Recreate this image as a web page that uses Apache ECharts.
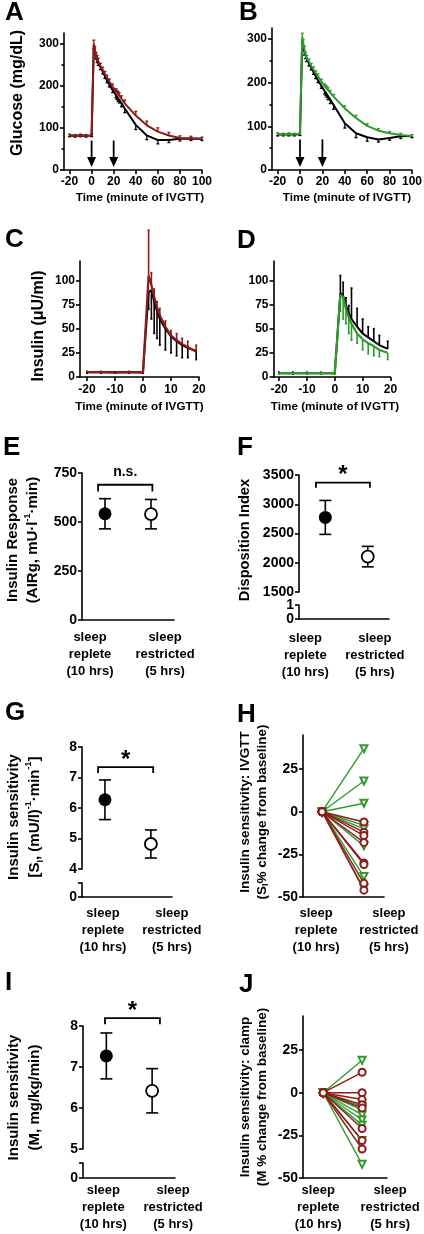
<!DOCTYPE html>
<html><head><meta charset="utf-8">
<script src="https://cdn.jsdelivr.net/npm/echarts@6.0.0/dist/echarts.min.js"></script>
<style>html,body{margin:0;padding:0;background:#fff;}#chart{width:424px;height:1234px;}</style>
</head><body><div id="chart"></div>
<script>
// ================= DATA =================
const glucoseTimes = [-20,-15,-10,-5,0,2,3,4,5,6,8,10,12,14,16,19,22,23,24,25,27,30,40,50,60,70,80,90,100];
const glucoseA_replete    = [82,81,82,81,82,296,282,270,262,255,244,234,223,213,203,190,178,174,170,167,159,146,107,82,71,71,74,75,74];
const glucoseA_repleteSem = [3,3,3,3,3,8,8,7,7,7,6,6,6,6,6,6,7,7,7,8,9,10,11,10,9,6,5,5,4];
const glucoseA_red        = [82,81,82,81,82,300,285,272,265,258,247,238,228,219,210,198,187,183,180,176,169,158,129,106,91,82,76,75,74];
const glucoseA_redSem     = [3,3,3,3,3,8,8,7,7,7,6,6,6,6,6,6,6,6,6,7,7,8,10,10,9,7,5,5,4];
const glucoseB_replete    = [81,81,81,81,82,298,282,270,262,255,244,235,225,215,206,193,181,177,173,169,161,149,107,84,75,70,73,77,78];
const glucoseB_repleteSem = [3,3,3,3,3,8,8,7,7,7,6,6,6,6,6,6,7,7,7,8,9,10,11,10,9,6,5,5,4];
const glucoseB_green      = [82,81,82,81,83,305,290,276,262,256,248,238,230,222,215,203,192,189,186,183,177,168,141,119,101,90,84,80,78];
const glucoseB_greenSem   = [3,3,3,3,3,8,8,7,7,6,6,6,6,5,5,5,5,5,5,5,5,5,6,6,5,5,4,4,3];
const glucoseArrowTimes   = [0, 20];
const glucoseTicks        = [-20,0,20,40,60,80,100];
const glucoseYTicks       = [0,100,200,300];
const glucoseYMinor       = [50,150,250];

const insulinTimes        = [-20,-15,-10,-5,0,2,3,4,5,6,8,10,12,14,16,19];
const insulinC_replete    = [5,5,5,5,5,88,90,78,68,60,50,42,37,33,30,27];
const insulinC_repleteSem = [1,1,1,1,1,18,30,33,28,27,22,17,15,13,10,9];
const insulinC_red        = [5,5,4.5,5,4.5,105,95,83,72,64,52,43,38,34,31,26];
const insulinC_redSem     = [1,1,1,1,1,47,13,8,6,7,6,5,7,6,6,7];
const insulinD_replete    = [4,4,4,4,4,87,84,74,66,60,52,45,41,37,33,29];
const insulinD_repleteSem = [1,1,1,1,1,18,14,8,8,32,19,15,11,13,10,8];
const insulinD_green      = [4,4,4,4,4,85,83,70,62,55,45,39,35,32,28,25];
const insulinD_greenSem   = [1,1,1,1,1,17,23,15,17,17,10,11,11,10,7,7];
const insulinTicks        = [-20,-10,0,10,20];
const insulinYTicks       = [0,25,50,75,100];

const conditionLines = [['sleep','replete','(10 hrs)'],['sleep','restricted','(5 hrs)']];
const airgMean = [542, 540],      airgSem = [77, 75];
const dispIdxMean = [2775, 2105], dispIdxSem = [290, 175];
const siMean = [6.27, 4.82],      siSem = [0.65, 0.46];
const clampMMean = [7.27, 6.42],  clampMSem = [0.56, 0.54];
const sigLabels = ['n.s.', '*', '*', '*'];   // E, F, G, I
const siChangeGreen = [37, 18, 5, -8, -10, -20, -38, -45];
const siChangeRed   = [-6, -12, -14, -18, -30, -31, -42, -46];
const mChangeGreen  = [19, -8, -10, -13, -16, -19, -28, -42];
const mChangeRed    = [12, 0, -4, -7, -9, -21, -28, -33];

// ================= STYLE =================
const REG = "'Liberation Sans',Arial,sans-serif";
const RED = '#8e1b1b', GREEN = '#2e9b2e';

const grids = [], xAxes = [], yAxes = [], series = [], titles = [];

function grid(l, t, w, h) { grids.push({left:l, top:t, width:w, height:h, containLabel:false, outerBoundsMode:'none'}); return grids.length - 1; }
function pushX(a) { xAxes.push(a); return xAxes.length - 1; }
function pushY(a) { yAxes.push(a); return yAxes.length - 1; }
function letter(t, l, top) { titles.push({text:t, left:l, top:top, padding:0, textStyle:{fontSize:26, fontWeight:'bold', fontFamily:REG, color:'#000'}}); }

function axis(o) {
  const a = {
    gridIndex:o.g, type:'value', min:o.min, max:o.max, show:o.show !== false,
    axisLine:{show:o.line !== false, onZero:false, lineStyle:{color:'#000', width:1.6}},
    axisTick:{show:!!o.ticks, inside:false, length:o.tickLen || 4, lineStyle:{color:'#000', width:1.6}},
    axisLabel:{show:!!o.labels, margin:o.margin == null ? 5 : o.margin, color:'#000', fontFamily:REG, fontWeight:'bold',
      fontSize:o.fontSize || 14, showMinLabel:true, showMaxLabel:true, hideOverlap:false,
      formatter:o.formatter || (v => String(v))},
    splitLine:{show:false}, minorTick:{show:false}, minorSplitLine:{show:false},
    nameMoveOverlap:false
  };
  if (o.ticks) a.axisTick.customValues = o.ticks;
  if (o.labels) a.axisLabel.customValues = o.labels;
  if (o.rich) a.axisLabel.rich = o.rich;
  if (o.position) { a.position = o.position; a.offset = 0; }
  if (o.name) {
    a.name = o.name; a.nameLocation = 'middle'; a.nameGap = o.nameGap;
    if (o.nameRotate != null) a.nameRotate = o.nameRotate;
    a.nameTextStyle = Object.assign({color:'#000', fontFamily:REG, fontWeight:'bold', fontSize:o.nameSize || 14, padding:o.namePad || 0}, o.nameStyle || {});
  }
  return a;
}

// condition labels: one x axis per label so they never compete for space
function catAxes(g, min, max, shift, margin) {
  const pad = d => d < 0 ? [0, -2 * d, 0, 0] : [0, 0, 0, 2 * d];
  const tok = {fontFamily:REG, fontWeight:'bold', fontSize:13, color:'#000', lineHeight:17};
  const mk = (i, withLine) => axis({g, min, max, labels:[i + 1], margin, line:withLine, position:'bottom',
    formatter: () => conditionLines[i].map(s => '{c|' + s + '}').join('\n'),
    rich:{ c:Object.assign({padding:pad(shift[i])}, tok) } });
  const first = pushX(mk(0, true));
  pushX(mk(1, false));
  return first;
}

function nameRich(size, lh) {
  return { rich:{
    a:{fontFamily:REG, fontWeight:'bold', fontSize:size, color:'#000', lineHeight:lh},
    sup:{fontFamily:REG, fontWeight:'bold', fontSize:9, color:'#000', verticalAlign:'top', lineHeight:lh},
    sub:{fontFamily:REG, fontWeight:'bold', fontSize:9, color:'#000', verticalAlign:'bottom', lineHeight:lh}
  }};
}

function lineSeries(xi, yi, xs, ys, color, lw) {
  return {type:'line', xAxisIndex:xi, yAxisIndex:yi, data:xs.map((x, i) => [x, ys[i]]), symbol:'none',
    lineStyle:{color:color, width:lw || 2}, itemStyle:{color:color}, silent:true, z:3};
}
function oneSided(xs, ys, sem, dir) { return xs.map((x, i) => [x, ys[i], ys[i] + dir * sem[i]]); }
function errSeries(xi, yi, rows, color, halfCap, lw, bothCaps) {
  return {type:'custom', xAxisIndex:xi, yAxisIndex:yi, data:rows, encode:{x:0, y:[1, 2]}, clip:false, silent:true, z:2,
    renderItem:(p, api) => {
      const x = api.value(0);
      const pa = api.coord([x, api.value(1)]), pb = api.coord([x, api.value(2)]);
      const st = {stroke:color, lineWidth:lw};
      const ch = [{type:'line', shape:{x1:pa[0], y1:pa[1], x2:pb[0], y2:pb[1]}, style:st}];
      if (halfCap > 0) {
        ch.push({type:'line', shape:{x1:pb[0] - halfCap, y1:pb[1], x2:pb[0] + halfCap, y2:pb[1]}, style:st});
        if (bothCaps) ch.push({type:'line', shape:{x1:pa[0] - halfCap, y1:pa[1], x2:pa[0] + halfCap, y2:pa[1]}, style:st});
      }
      return {type:'group', children:ch};
    }};
}
function arrowSeries(xi, yi, times, top, tip) {
  return {type:'custom', xAxisIndex:xi, yAxisIndex:yi, data:times.map(t => [t, top, tip]), encode:{x:0, y:[1, 2]}, clip:false, silent:true, z:4,
    renderItem:(p, api) => {
      const x = api.value(0);
      const a = api.coord([x, api.value(1)]), b = api.coord([x, api.value(2)]);
      const head = 10, hw = 4.5;
      return {type:'group', children:[
        {type:'line', shape:{x1:a[0], y1:a[1], x2:b[0], y2:b[1] - head + 1}, style:{stroke:'#000', lineWidth:1.8}},
        {type:'polygon', shape:{points:[[b[0] - hw, b[1] - head], [b[0] + hw, b[1] - head], [b[0], b[1]]]}, style:{fill:'#000'}}
      ]};
    }};
}
function bracketSeries(xi, yi, geom, label) {
  const isStar = label === '*';
  return {type:'custom', xAxisIndex:xi, yAxisIndex:yi, data:[geom], encode:{x:[0, 1], y:[2, 3]}, clip:false, silent:true, z:4,
    renderItem:(p, api) => {
      const a = api.coord([api.value(0), api.value(2)]), b = api.coord([api.value(1), api.value(2)]);
      const t = api.coord([api.value(0), api.value(3)]);
      return {type:'group', children:[
        {type:'polyline', shape:{points:[[a[0], t[1]], [a[0], a[1]], [b[0], b[1]], [b[0], t[1]]]}, style:{stroke:'#000', lineWidth:1.8, fill:null}},
        {type:'text', style:{text:label, x:(a[0] + b[0]) / 2, y:a[1] - (isStar ? 7 : 13), align:'center', verticalAlign:'middle',
          font:'bold ' + (isStar ? 24 : 14) + 'px ' + REG, fill:'#000'}}
      ]};
    }};
}
function pointSeries(xi, yi, mean) {
  return [
    {type:'scatter', xAxisIndex:xi, yAxisIndex:yi, data:[[1, mean[0]]], symbol:'circle', symbolSize:13, itemStyle:{color:'#000', opacity:1}, silent:true, z:5},
    {type:'scatter', xAxisIndex:xi, yAxisIndex:yi, data:[[2, mean[1]]], symbol:'circle', symbolSize:12, itemStyle:{color:'#fff', borderColor:'#000', borderWidth:1.8, opacity:1}, silent:true, z:5}
  ];
}
function meanSemRows(mean, sem) { return mean.map((m, i) => [i + 1, m - sem[i], m + sem[i]]); }
function spaghetti(xi, yi, vals, color, symbol, rotate) {
  vals.forEach(v => series.push({type:'line', xAxisIndex:xi, yAxisIndex:yi, data:[[1, 0], [2, v]], symbol:symbol, symbolRotate:rotate || 0,
    symbolSize:7, lineStyle:{color:color, width:1.4}, itemStyle:{color:color, borderWidth:1.4, opacity:1}, silent:true, clip:false, z:3}));
}

// A-D fonts (the reference uses a condensed face there)
const TS = 12, XT = 11.7;

// ================= PANEL A =================
letter('A', 5, 0);
const gA = grid(64, 33, 138, 137);
const xA = pushX(axis({g:gA, min:-25, max:100, ticks:glucoseTicks, labels:glucoseTicks, margin:6, fontSize:TS,
  name:'Time (minute of IVGTT)', nameGap:22, nameSize:XT, namePad:[0, 0, 0, 14]}));
const yA = pushY(axis({g:gA, min:0, max:325, ticks:glucoseYTicks, labels:glucoseYTicks, fontSize:TS,
  name:'Glucose (mg/dL)', nameGap:38, nameRotate:90, nameSize:16, namePad:[0, 0, 0, 17]}));
pushY(axis({g:gA, min:0, max:325, ticks:glucoseYMinor, tickLen:2.5, line:false, position:'left'}));
series.push(errSeries(xA, yA, oneSided(glucoseTimes, glucoseA_replete, glucoseA_repleteSem, -1), '#000', 1.5, 1.3));
series.push(lineSeries(xA, yA, glucoseTimes, glucoseA_replete, '#000', 2));
series.push(errSeries(xA, yA, oneSided(glucoseTimes, glucoseA_red, glucoseA_redSem, 1), RED, 1.5, 1.3));
series.push(lineSeries(xA, yA, glucoseTimes, glucoseA_red, RED, 2));
series.push(arrowSeries(xA, yA, glucoseArrowTimes, 70, 7));

// ================= PANEL B =================
letter('B', 239, 0);
const gB = grid(272, 28, 140, 142);
const xB = pushX(axis({g:gB, min:-25, max:100, ticks:glucoseTicks, labels:glucoseTicks, margin:6, fontSize:TS,
  name:'Time (minute of IVGTT)', nameGap:22, nameSize:XT, namePad:[0, 0, 0, 10]}));
const yB = pushY(axis({g:gB, min:0, max:325, ticks:glucoseYTicks, labels:glucoseYTicks, fontSize:TS}));
pushY(axis({g:gB, min:0, max:325, ticks:glucoseYMinor, tickLen:2.5, line:false, position:'left'}));
series.push(errSeries(xB, yB, oneSided(glucoseTimes, glucoseB_replete, glucoseB_repleteSem, -1), '#000', 1.5, 1.3));
series.push(lineSeries(xB, yB, glucoseTimes, glucoseB_replete, '#000', 2));
series.push(errSeries(xB, yB, oneSided(glucoseTimes, glucoseB_green, glucoseB_greenSem, 1), GREEN, 1.5, 1.3));
series.push(lineSeries(xB, yB, glucoseTimes, glucoseB_green, GREEN, 2));
series.push(arrowSeries(xB, yB, glucoseArrowTimes, 70, 7));

// ================= PANEL C =================
letter('C', 5, 227);
const gC = grid(80, 261, 119, 116);
const xC = pushX(axis({g:gC, min:-22.5, max:20, ticks:insulinTicks, labels:insulinTicks, margin:7, fontSize:TS,
  name:'Time (minute of IVGTT)', nameGap:24, nameSize:XT}));
const yC = pushY(axis({g:gC, min:0, max:120, ticks:insulinYTicks, labels:insulinYTicks, fontSize:TS,
  name:'Insulin (\u03bcU/ml)', nameGap:33, nameRotate:90, nameSize:16, namePad:[0, 14, 0, 0]}));
series.push(errSeries(xC, yC, oneSided(insulinTimes, insulinC_replete, insulinC_repleteSem, -1), '#000', 1, 1.6));
series.push(lineSeries(xC, yC, insulinTimes, insulinC_replete, '#000', 2));
series.push(errSeries(xC, yC, oneSided(insulinTimes, insulinC_red, insulinC_redSem, 1), RED, 1, 1.6));
series.push(lineSeries(xC, yC, insulinTimes, insulinC_red, RED, 2.2));

// ================= PANEL D =================
letter('D', 237, 228);
const gD = grid(273.5, 261, 117, 116);
const xD = pushX(axis({g:gD, min:-22, max:20, ticks:insulinTicks, labels:insulinTicks, margin:7, fontSize:TS,
  name:'Time (minute of IVGTT)', nameGap:24, nameSize:XT, namePad:[0, 0, 0, 6]}));
const yD = pushY(axis({g:gD, min:0, max:120, ticks:insulinYTicks, labels:insulinYTicks, fontSize:TS}));
series.push(errSeries(xD, yD, oneSided(insulinTimes, insulinD_replete, insulinD_repleteSem, 1), '#000', 1, 1.6));
series.push(lineSeries(xD, yD, insulinTimes, insulinD_replete, '#000', 2));
series.push(errSeries(xD, yD, oneSided(insulinTimes, insulinD_green, insulinD_greenSem, -1), GREEN, 1, 1.6));
series.push(lineSeries(xD, yD, insulinTimes, insulinD_green, GREEN, 2.2));

// ================= PANEL E =================
letter('E', 3, 435);
const gE = grid(82, 473, 92, 147);
const xE = catAxes(gE, 0.5, 2.5, [-15, 14], 8.5);
const yE = pushY(axis({g:gE, min:0, max:750, ticks:[0, 250, 500, 750], labels:[0, 250, 500, 750],
  name:'{a|Insulin Response}\n{a|(AIRg, mU\u00b7l}{sup|-1}{a|\u00b7min)}', nameGap:39, nameRotate:90,
  nameStyle:nameRich(15, 20), namePad:[0, 0, 0, 13]}));
series.push(errSeries(xE, yE, meanSemRows(airgMean, airgSem), '#000', 6, 1.6, true));
series.push(...pointSeries(xE, yE, airgMean));
series.push(bracketSeries(xE, yE, [0.85, 2.03, 690, 656], sigLabels[0]));

// ================= PANEL F =================
letter('F', 237, 435);
const gF = grid(299, 475, 90, 117);
const gF2 = grid(299, 605, 90, 14);
const xF = pushX(axis({g:gF, min:0.38, max:2.5, show:false}));
const yF = pushY(axis({g:gF, min:1500, max:3500, ticks:[1500, 2000, 2500, 3000, 3500], labels:[1500, 2000, 2500, 3000, 3500],
  name:'Disposition Index', nameGap:46.5, nameRotate:90, nameSize:14.7, namePad:[0, 13, 0, 0]}));
catAxes(gF2, 0.38, 2.5, [-20, 7], 10.5);
pushY(axis({g:gF2, min:0, max:1, ticks:[0, 1], labels:[0, 1]}));
series.push(errSeries(xF, yF, meanSemRows(dispIdxMean, dispIdxSem), '#000', 6, 1.6, true));
series.push(...pointSeries(xF, yF, dispIdxMean));
series.push(bracketSeries(xF, yF, [0.78, 2.05, 3370, 3280], sigLabels[1]));

// ================= PANEL G =================
letter('G', 5, 700);
const gG = grid(82, 747, 90, 122);
const gG2 = grid(82, 883, 90, 14);
const xG = pushX(axis({g:gG, min:0.5, max:2.46, show:false}));
const yG = pushY(axis({g:gG, min:4, max:8, ticks:[4, 5, 6, 7, 8], labels:[4, 5, 6, 7, 8],
  name:'{a|Insulin sensitivity}\n{a|[S}{sub|I}{a|, (mU/l)}{sup|-1}{a|\u00b7min}{sup|-1}{a|]}', nameGap:36.5, nameRotate:90,
  nameStyle:nameRich(15, 21), namePad:[0, 18, 0, 0]}));
catAxes(gG2, 0.5, 2.46, [-2, 21], 7.5);
pushY(axis({g:gG2, min:0, max:1, ticks:[0, 1], labels:[0]}));
series.push(errSeries(xG, yG, meanSemRows(siMean, siSem), '#000', 6, 1.6, true));
series.push(...pointSeries(xG, yG, siMean));
series.push(bracketSeries(xG, yG, [0.85, 2.05, 7.34, 7.15], sigLabels[2]));

// ================= PANEL H =================
letter('H', 237, 702);
const gH = grid(303, 735, 81, 162);
const xH = catAxes(gH, 0.544, 2.48, [-6, 25], 7.5);
const yH = pushY(axis({g:gH, min:-50, max:45, ticks:[-50, -25, 0, 25], labels:[-50, -25, 0, 25],
  name:'{a|Insulin sensitivity: IVGTT}\n{a|(S}{sub|I}{a|% change from baseline)}', nameGap:32.5, nameRotate:90,
  nameStyle:nameRich(13.5, 17), namePad:[0, 0, 0, 8]}));
spaghetti(xH, yH, siChangeGreen, GREEN, 'emptyTriangle', 180);
spaghetti(xH, yH, siChangeRed, RED, 'emptyCircle', 0);

// ================= PANEL I =================
letter('I', 5, 970);
const gI = grid(83, 1026, 92, 123);
const gI2 = grid(83, 1163, 92, 15);
const xI = pushX(axis({g:gI, min:0.49, max:2.5, show:false}));
const yI = pushY(axis({g:gI, min:5, max:8, ticks:[5, 6, 7, 8], labels:[5, 6, 7, 8],
  name:'{a|Insulin sensitivity}\n{a|(M, mg/kg/min)}', nameGap:37.5, nameRotate:90,
  nameStyle:nameRich(15, 21), namePad:[0, 20, 0, 0]}));
catAxes(gI2, 0.49, 2.5, [-3, 21], 3.5);
pushY(axis({g:gI2, min:0, max:1, ticks:[0, 1], labels:[0]}));
series.push(errSeries(xI, yI, meanSemRows(clampMMean, clampMSem), '#000', 6, 1.6, true));
series.push(...pointSeries(xI, yI, clampMMean));
series.push(bracketSeries(xI, yI, [0.97, 2.17, 8.19, 8.04], sigLabels[3]));

// ================= PANEL J =================
letter('J', 239, 972);
const gJ = grid(303, 1016, 84, 162);
const xJ = catAxes(gJ, 0.48, 2.64, [-5, 28], 3.5);
const yJ = pushY(axis({g:gJ, min:-50, max:45, ticks:[-50, -25, 0, 25], labels:[-50, -25, 0, 25],
  name:'{a|Insulin sensitivity: clamp}\n{a|(M % change from baseline)}', nameGap:32.5, nameRotate:90,
  nameStyle:nameRich(13.5, 17)}));
spaghetti(xJ, yJ, mChangeGreen, GREEN, 'emptyTriangle', 180);
spaghetti(xJ, yJ, mChangeRed, RED, 'emptyCircle', 0);

const chart = echarts.init(document.getElementById('chart'), null, {renderer:'canvas'});
chart.setOption({animation:false, backgroundColor:'#fff', title:titles, grid:grids, xAxis:xAxes, yAxis:yAxes, series:series});
</script></body></html>
